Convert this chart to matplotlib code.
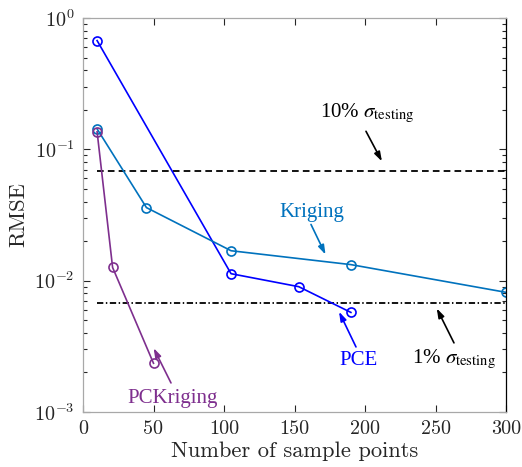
import matplotlib
matplotlib.use("Agg")
import matplotlib.pyplot as plt

# data
pce_n = [10, 105, 153, 190]
pce_rmse = [0.673, 0.0113, 0.0090, 0.00573]

krig_n = [10, 45, 105, 190, 300]
krig_rmse = [0.143, 0.036, 0.0169, 0.01325, 0.00815]

pck_n = [10, 21, 50]
pck_rmse = [0.136, 0.0126, 0.00235]

thr_n = [10, 300]
thr_10 = [0.0685, 0.0685]
thr_1 = [0.00678, 0.00678]

x_ticks = [0, 50, 100, 150, 200, 250, 300]
y_ticks = [1e-3, 1e-2, 1e-1, 1e0]
y_ticklabels = [r"$10^{-3}$", r"$10^{-2}$", r"$10^{-1}$", r"$10^{0}$"]

c_pce = "#0000FF"
c_krig = "#0072BD"
c_pck = "#7E2F8E"

plt.rcParams["mathtext.fontset"] = "cm"

fig = plt.figure(figsize=(5.22, 4.67), dpi=100)
ax = fig.add_axes([83 / 522, 55 / 467, 423 / 522, 394 / 467])

mk = dict(marker="o", markersize=6.5, markerfacecolor="none", markeredgewidth=1.2, linewidth=1.2)
ax.plot(thr_n, thr_10, "--", color="black", linewidth=1.3, dashes=(3.7, 2.3))
ax.plot(thr_n, thr_1, "-.", color="black", linewidth=1.3, dashes=(3.5, 1.4, 0.8, 1.4))
ax.plot(pce_n, pce_rmse, color=c_pce, markeredgecolor=c_pce, **mk)
ax.plot(krig_n, krig_rmse, color=c_krig, markeredgecolor=c_krig, **mk)
ax.plot(pck_n, pck_rmse, color=c_pck, markeredgecolor=c_pck, **mk)

ax.set_yscale("log")
ax.set_xlim(0, 300)
ax.set_ylim(1e-3, 1)
ax.set_xticks(x_ticks)
ax.set_xticklabels([str(v) for v in x_ticks], fontfamily="cmr10", fontsize=14.5, color="#262626")
ax.set_yticks(y_ticks)
ax.set_yticklabels(y_ticklabels, fontsize=14.5, color="#262626", math_fontfamily="cm")

ax.tick_params(which="both", direction="in", top=True, right=True, colors="#262626")
ax.tick_params(which="major", length=5, width=0.8, pad=6)
ax.tick_params(which="minor", length=3, width=0.8)
for s in ["left", "top", "bottom"]:
    ax.spines[s].set_color("#a8a8a8")
    ax.spines[s].set_linewidth(0.9)
ax.spines["right"].set_color("black")
ax.spines["right"].set_linewidth(0.9)

ax.set_xlabel("Number of sample points", fontfamily="cmr10", fontsize=16.2, color="#262626", labelpad=2.5)
ax.set_ylabel("RMSE", fontfamily="cmr10", fontsize=16.2, color="#262626", labelpad=4)

arw = dict(arrowstyle="-|>,head_length=0.55,head_width=0.18", linewidth=1.2, shrinkA=0, shrinkB=0)
tkw = dict(fontfamily="Liberation Serif", fontsize=15, math_fontfamily="stix")

ax.annotate("", xy=(172, 0.0158), xytext=(161.7, 0.0268),
            arrowprops=dict(color=c_krig, **arw))
ax.text(162.4, 0.033, "Kriging", color=c_krig, ha="center", va="center", **tkw)

ax.annotate("", xy=(212, 0.081), xytext=(200.7, 0.1372),
            arrowprops=dict(color="black", **arw))
ax.text(168, 0.1754, r"10% $\sigma_{\rm testing}$", color="black", ha="left", va="baseline", **tkw)

ax.annotate("", xy=(181.6, 0.0058), xytext=(193.6, 0.00313),
            arrowprops=dict(color=c_pce, **arw))
ax.text(181.6, 0.00229, "PCE", color=c_pce, ha="left", va="baseline", **tkw)

ax.annotate("", xy=(250.9, 0.00615), xytext=(263.1, 0.00336),
            arrowprops=dict(color="black", **arw))
ax.text(233.1, 0.00234, r"1% $\sigma_{\rm testing}$", color="black", ha="left", va="baseline", **tkw)

ax.annotate("", xy=(50.1, 0.003065), xytext=(62.4, 0.001665),
            arrowprops=dict(color=c_pck, **arw))
ax.text(31.7, 0.00118, "PCKriging", color=c_pck, ha="left", va="baseline", **tkw)

fig.savefig("out.png", dpi=100)
